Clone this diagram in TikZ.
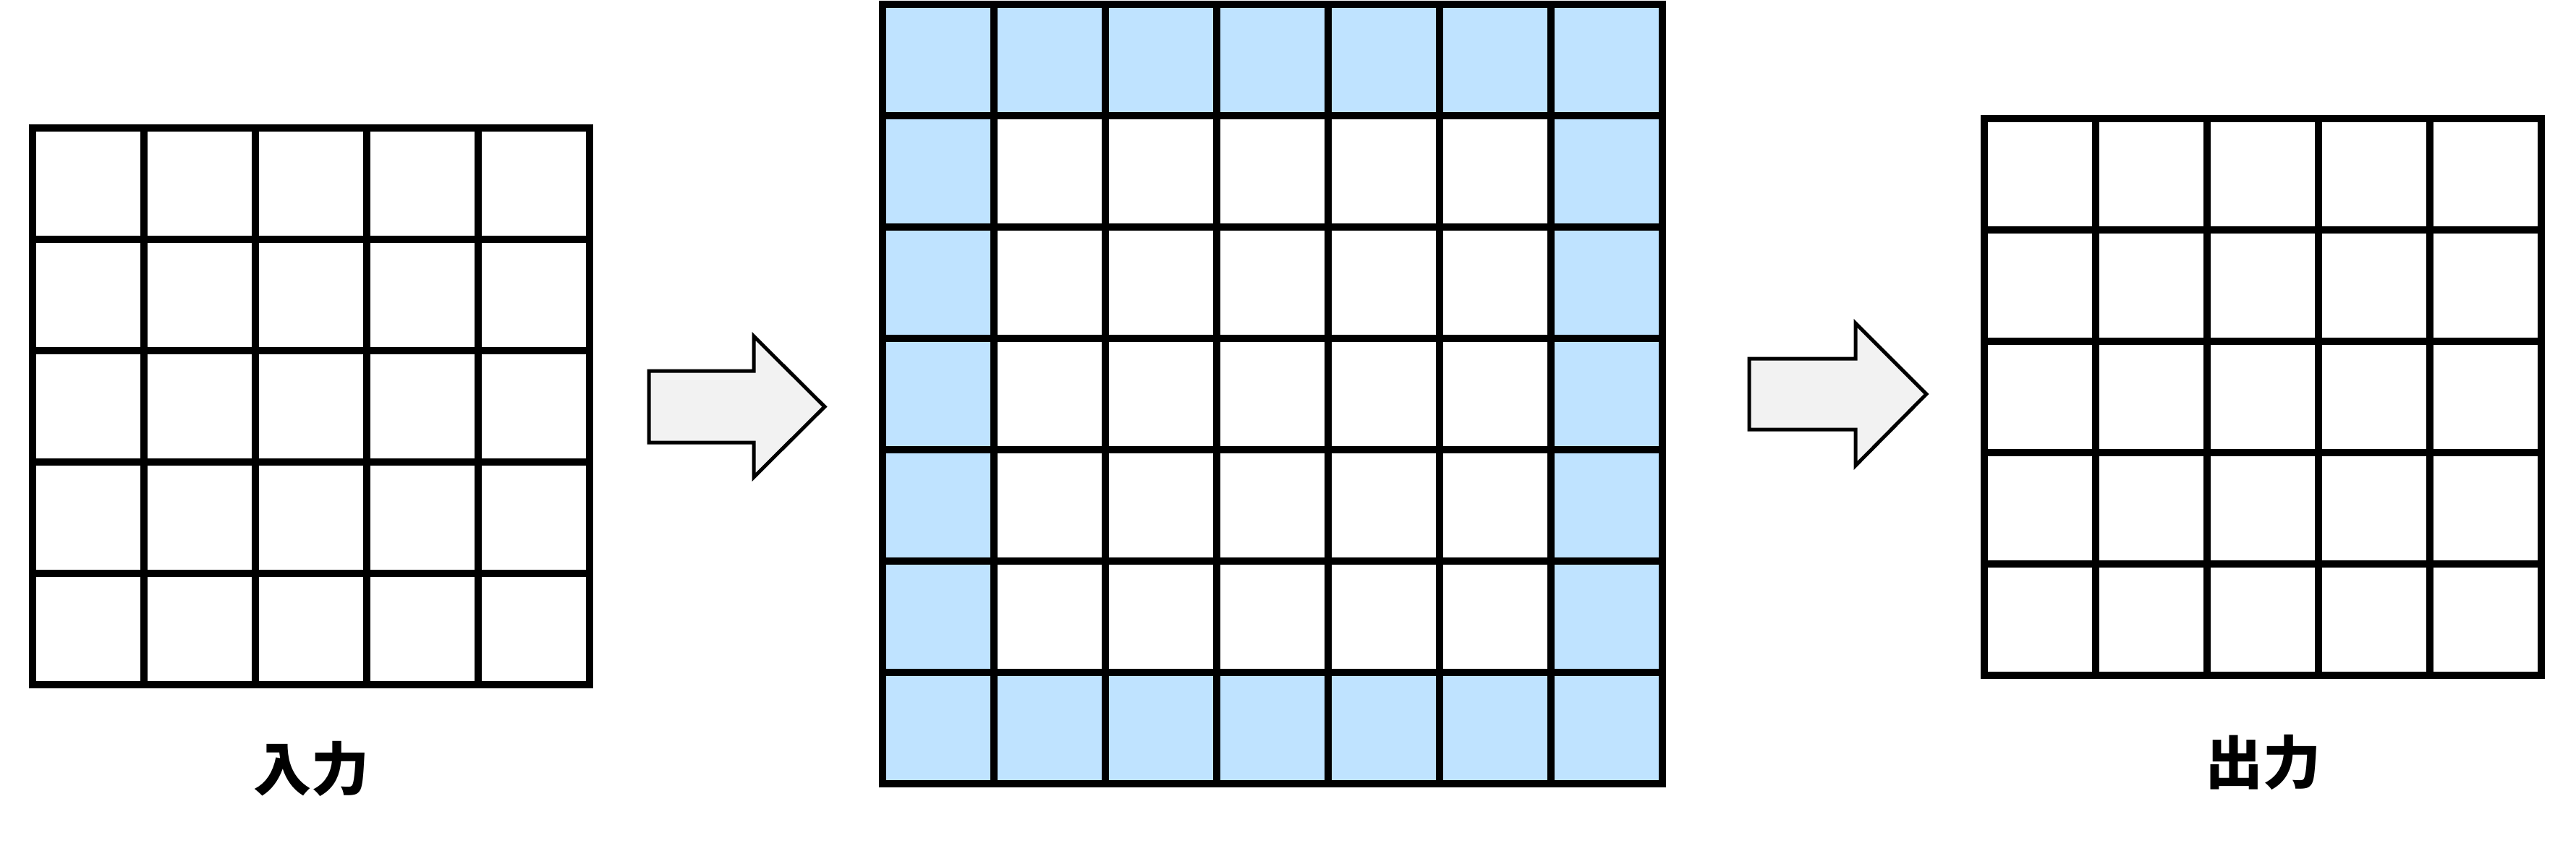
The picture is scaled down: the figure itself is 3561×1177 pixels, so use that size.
\documentclass[tikz,border=0pt]{standalone}
\usepackage{fontspec}
\newfontfamily\cjk{Noto Sans CJK JP}
\definecolor{padblue}{HTML}{BFE3FF}
\definecolor{arrowgray}{HTML}{F2F2F2}
\tikzset{
  gridline/.style={line width=10pt, draw=black, line join=miter},
  bigarrow/.style={line width=5pt, draw=black, fill=arrowgray, line join=miter},
  caption/.style={font=\cjk\bfseries\fontsize{80}{96}\selectfont, inner sep=0pt}
}
\newcommand\cellgrid[4]{% x0, y0, n, cell
  \foreach \i in {1,...,\numexpr#3-1\relax} {
    \draw[gridline] (#1+\i*#4, #2) -- (#1+\i*#4, #2+#3*#4);
    \draw[gridline] (#1, #2+\i*#4) -- (#1+#3*#4, #2+\i*#4);
  }
  \draw[gridline] (#1,#2) rectangle (#1+#3*#4, #2+#3*#4);
}
\begin{document}
\begin{tikzpicture}[x=1pt,y=-1pt]
\useasboundingbox (0,0) rectangle (3561,1177);
\fill[white] (0,0) rectangle (3561,1177);
% input grid
\cellgrid{45}{177}{5}{154}
\node[caption] (in) at (430,1063) {入力};
% arrow 1
\draw[bigarrow] (897,513) -- (1042,513) -- (1042,465) -- (1140,562.5) -- (1042,660) -- (1042,612) -- (897,612) -- cycle;
% padded grid
\fill[padblue] (1220,6) rectangle (2298,1084);
\fill[white] (1374,160) rectangle (2144,930);
\cellgrid{1220}{6}{7}{154}
% arrow 2
\draw[bigarrow] (2418,496) -- (2565,496) -- (2565,447) -- (2663,545) -- (2565,644) -- (2565,594) -- (2418,594) -- cycle;
% output grid
\cellgrid{2743}{164}{5}{154}
\node[caption] (out) at (3128,1054) {出力};
\end{tikzpicture}
\end{document}
